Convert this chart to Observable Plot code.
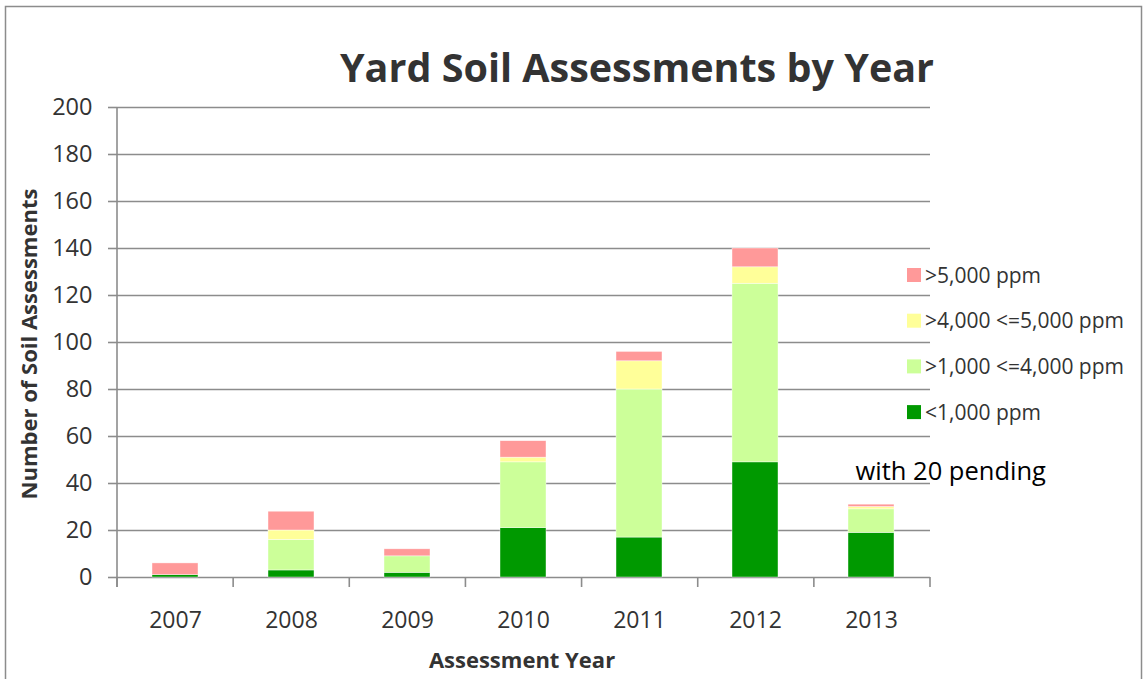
<!DOCTYPE html>
<html>
<head>
<meta charset="utf-8">
<script src="https://cdn.jsdelivr.net/npm/d3@7"></script>
<script src="https://cdn.jsdelivr.net/npm/@observablehq/plot@0.6"></script>
<style>
  body { margin: 0; background: #fff; }
  #chart svg { display: block; }
</style>
</head>
<body>
<div id="chart"></div>
<script>
const years = ["2007", "2008", "2009", "2010", "2011", "2012", "2013"];
const categories = ["<1,000 ppm", ">1,000 <=4,000 ppm", ">4,000 <=5,000 ppm", ">5,000 ppm"];
const colors = ["#009900", "#ccff99", "#ffff99", "#ff9999"];
const below1000 = [1, 3, 2, 21, 17, 49, 19];
const from1000to4000 = [0, 13, 7, 28, 63, 76, 10];
const from4000to5000 = [0, 4, 0, 2, 12, 7, 1];
const above5000 = [5, 8, 3, 7, 4, 8, 1];
const yTicks = [0, 20, 40, 60, 80, 100, 120, 140, 160, 180, 200];
const note = [{year: "2013", value: 45, label: "with 20 pending"}];

const series = [below1000, from1000to4000, from4000to5000, above5000];
const data = [];
years.forEach((yr, i) => {
  categories.forEach((c, j) => data.push({year: yr, cat: c, count: series[j][i]}));
});

const font = "'Open Sans', sans-serif";
const W = 1147, H = 679;
const mL = 117, mR = 217, mT = 107, mB = 102;

const chart = Plot.plot({
  width: W,
  height: H,
  marginLeft: mL,
  marginRight: mR,
  marginTop: mT,
  marginBottom: mB,
  style: {fontFamily: font, background: "#fff", overflow: "visible"},
  x: {domain: years, paddingInner: 0.6, paddingOuter: 0.3, label: null, axis: null},
  y: {domain: [0, 200], label: null, axis: null},
  color: {domain: categories, range: colors},
  marks: [
    Plot.ruleY(yTicks, {stroke: "#8c8c8c", strokeWidth: 1.6}),
    Plot.barY(data, {x: "year", y: "count", fill: "cat", order: categories, stroke: "#fff", strokeWidth: 0.6, strokeOpacity: 0.7}),
    Plot.axisY(yTicks, {tickSize: 9, tickPadding: 16, fontSize: 23.5, fill: "#333", stroke: "#8c8c8c", strokeWidth: 1.6, label: null}),
    Plot.axisX(years, {tickSize: 0, tickPadding: 34, fontSize: 23, fill: "#333", label: null}),
    Plot.text(note, {x: "year", y: "value", text: "label", textAnchor: "start", dx: -16, fontSize: 25.5, fill: "#000"})
  ]
});

const svg = d3.select(chart);
const x0 = mL, x1 = W - mR, y0 = mT, yb = H - mB;

// outer border
svg.insert("rect", ":first-child")
  .attr("x", 5.5).attr("y", 6.5).attr("width", 1136).attr("height", 700)
  .attr("fill", "#fff").attr("stroke", "#8c8c8c").attr("stroke-width", 1.5);

// y axis line
svg.append("line").attr("x1", x0).attr("x2", x0).attr("y1", y0).attr("y2", yb + 10)
  .attr("stroke", "#8c8c8c").attr("stroke-width", 1.6);
// x boundary ticks
for (let i = 0; i <= years.length; i++) {
  const xx = x0 + i * (x1 - x0) / years.length;
  svg.append("line").attr("x1", xx).attr("x2", xx).attr("y1", yb).attr("y2", yb + 10)
    .attr("stroke", "#8c8c8c").attr("stroke-width", 1.6);
}

// title
svg.append("text").attr("x", 637).attr("y", 82)
  .attr("text-anchor", "middle").attr("font-size", 39.5).attr("font-weight", "bold")
  .attr("fill", "#333").attr("font-family", font).text("Yard Soil Assessments by Year");
// y axis title
svg.append("text").attr("transform", `translate(37,${(y0 + yb) / 2 + 2}) rotate(-90)`)
  .attr("text-anchor", "middle").attr("font-size", 22).attr("font-weight", "bold")
  .attr("fill", "#333").attr("font-family", font).text("Number of Soil Assessments");
// x axis title
svg.append("text").attr("x", 522).attr("y", 668)
  .attr("text-anchor", "middle").attr("font-size", 22).attr("font-weight", "bold")
  .attr("fill", "#333").attr("font-family", font).text("Assessment Year");

// legend (top to bottom: reversed stacking order)
const legendItems = categories.map((c, i) => ({c, col: colors[i]})).reverse();
legendItems.forEach((d, i) => {
  const cy = 275 + i * 45.7;
  svg.append("rect").attr("x", 907).attr("y", cy - 7).attr("width", 14).attr("height", 14).attr("fill", d.col);
  svg.append("text").attr("x", 925).attr("y", cy + 7.5).attr("font-size", 21)
    .attr("text-anchor", "start")
    .attr("fill", "#333").attr("font-family", font).text(d.c);
});

document.getElementById("chart").appendChild(chart);
</script>
</body>
</html>
